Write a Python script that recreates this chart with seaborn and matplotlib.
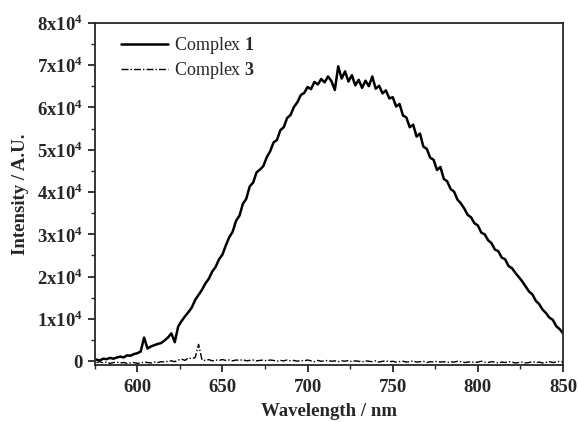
import numpy as np
import seaborn as sns
import matplotlib.pyplot as plt
from matplotlib.ticker import FuncFormatter, MultipleLocator

sns.set_style("ticks")
plt.rcParams['font.family'] = ['Liberation Serif', 'DejaVu Serif']
plt.rcParams['mathtext.fontset'] = 'custom'
plt.rcParams['mathtext.rm'] = 'Liberation Serif'
plt.rcParams['mathtext.bf'] = 'Liberation Serif:bold'

# wavelength grid (nm), 2 nm steps
wavelength = np.arange(576, 851, 2)

complex1 = [400, 200, 600, 500, 800, 600, 900, 1100, 900, 1400,
            1300, 1700, 1900, 2300, 5600, 3000, 3500, 3800, 4100, 4300,
            4900, 5600, 6600, 4500, 8200, 9500, 10600, 11600, 12700, 14500,
            15700, 16900, 18400, 19500, 21200, 22300, 24100, 25200, 27400, 29300,
            30600, 33200, 34400, 37200, 38400, 41300, 42200, 44600, 45300, 46100,
            48200, 49600, 51700, 52300, 54600, 55300, 57500, 58200, 60100, 61200,
            62900, 63400, 64800, 64300, 66000, 65400, 66700, 65900, 67300, 66200,
            64100, 69700, 66800, 68500, 66100, 67600, 65200, 66500, 64600, 66300,
            65000, 67300, 64400, 65100, 63300, 64000, 62100, 62400, 60200, 60800,
            58100, 57600, 55300, 55900, 53100, 53800, 50700, 50200, 48100, 47600,
            45200, 45900, 43100, 42500, 40700, 40100, 38200, 37300, 36100, 34600,
            34000, 32600, 32100, 30400, 30000, 28600, 27900, 26400, 26000, 24500,
            24100, 22500, 22000, 20900, 19900, 18900, 17700, 16500, 15800, 14300,
            13500, 12200, 11400, 10300, 9800, 8300, 7600, 6600]

complex3 = [-300, -100, -400, -200, -500, -300, -200, -400, -300, -500,
            -400, -300, -500, -400, -200, -300, -400, -200, -300, -100,
            -200, 0, 100, -100, 300, 500, 200, 800, 600, 900,
            4000, 300, 200, 400, 100, 300, 200, 400, 200, 300,
            100, 300, 200, 400, 100, 200, 300, 100, 200, 300,
            100, 300, 200, 0, 200, 100, 300, 100, 200, 0,
            200, 100, 300, 100, -100, 200, 0, 100, 200, 0,
            100, -100, 100, 0, 200, -100, 100, 0, -200, 100,
            0, -100, 100, -200, 0, 100, -100, 0, -200, -100,
            0, -200, -100, 100, -200, -100, 0, -300, -100, -200,
            0, -200, -100, -300, -100, -200, 0, -100, -300, -200,
            -100, -300, -200, 0, -200, -300, -100, -200, -400, -200,
            -300, -100, -200, -400, -300, -200, -400, -300, -100, -300,
            -200, -400, -300, -100, -300, -200, 0, -200]

fig = plt.figure(figsize=(5.79, 4.22), dpi=100)
ax = fig.add_axes([0.1636, 0.1339, 0.8088, 0.8123])

sns.lineplot(x=wavelength, y=complex1, ax=ax, color='k', lw=1.8,
             label='Complex $\\mathbf{1}$')
sns.lineplot(x=wavelength, y=complex3, ax=ax, color='k', lw=1.0,
             linestyle=(0, (5, 1.5, 1, 1.5)), label='Complex $\\mathbf{3}$')

ax.set_xlim(575, 850)
ax.set_ylim(-1000, 80000)
ax.xaxis.set_major_locator(MultipleLocator(50))
ax.xaxis.set_minor_locator(MultipleLocator(25))
ax.yaxis.set_major_locator(MultipleLocator(10000))
ax.yaxis.set_minor_locator(MultipleLocator(5000))


def yfmt(v, pos):
    k = int(round(v / 10000))
    if k == 0:
        return '0'
    return '%dx10$^{\\mathbf{4}}$' % k


ax.yaxis.set_major_formatter(FuncFormatter(yfmt))
ax.tick_params(which='major', direction='out', length=5, width=1.3, labelsize=13.5)
ax.tick_params(axis='x', which='major', pad=5)
ax.tick_params(which='minor', direction='out', length=3, width=1.0)
for lab in ax.get_xticklabels() + ax.get_yticklabels():
    lab.set_fontweight('bold')
for s in ax.spines.values():
    s.set_visible(True)
    s.set_linewidth(1.3)

ax.set_xlabel('Wavelength / nm', fontsize=13.5, fontweight='bold', labelpad=5)
ax.set_ylabel('Intensity / A.U.', fontsize=13.5, fontweight='bold', labelpad=6)

leg = ax.legend(loc='upper left', frameon=False, fontsize=13, handlelength=2.6,
                handletextpad=0.3, labelspacing=0.2, borderaxespad=0.3,
                bbox_to_anchor=(0.03, 1.0))

fig.savefig('out.png', dpi=100)
